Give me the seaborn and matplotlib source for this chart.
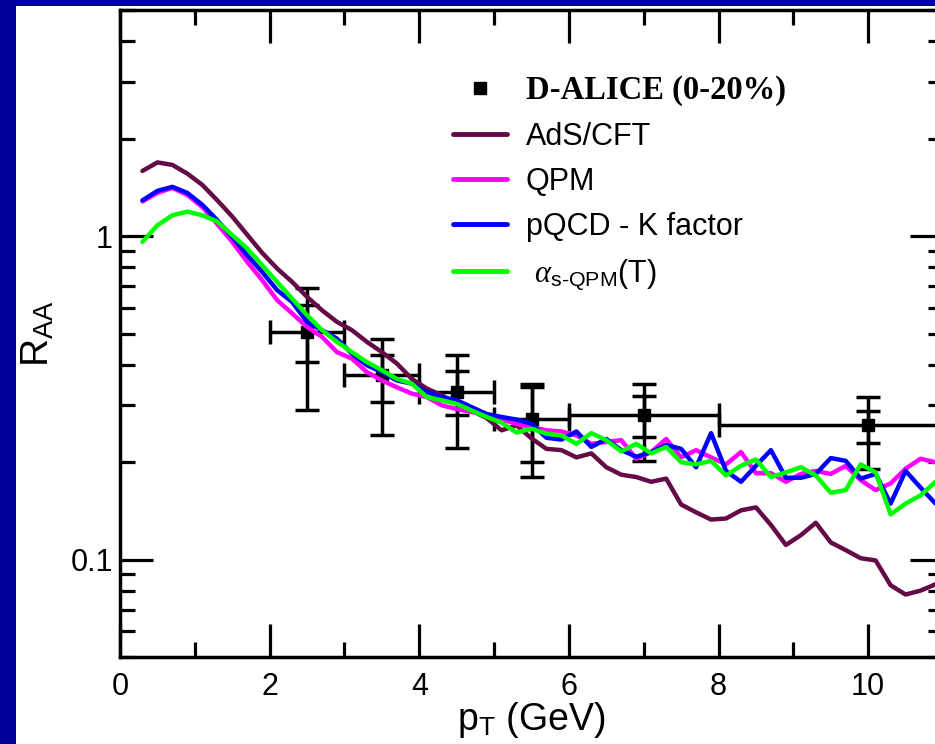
import numpy as np
import pandas as pd
import matplotlib
matplotlib.use("Agg")
import matplotlib.pyplot as plt
from matplotlib.lines import Line2D
from matplotlib.patches import Rectangle
from matplotlib.ticker import LogLocator, NullFormatter, FixedLocator, FixedFormatter, MultipleLocator
import seaborn as sns

# ---------------- data ----------------
pt = [0.3, 0.5, 0.7, 0.9, 1.1, 1.3, 1.5, 1.7, 1.9, 2.1, 2.3, 2.5, 2.7, 2.9, 3.1, 3.3, 3.5, 3.7,
      3.9, 4.1, 4.3, 4.5, 4.7, 4.9, 5.1, 5.3, 5.5, 5.7, 5.9, 6.1, 6.3, 6.5, 6.7, 6.9, 7.1, 7.3,
      7.5, 7.7, 7.9, 8.1, 8.3, 8.5, 8.7, 8.9, 9.1, 9.3, 9.5, 9.7, 9.9, 10.1, 10.3, 10.5, 10.7, 10.9]

ads_cft = [1.59, 1.69, 1.66, 1.56, 1.44, 1.29, 1.15, 1.01, 0.888, 0.794,
           0.722, 0.649, 0.590, 0.543, 0.512, 0.471, 0.438, 0.404, 0.362, 0.338,
           0.322, 0.303, 0.289, 0.274, 0.251, 0.260, 0.237, 0.220, 0.218, 0.207,
           0.213, 0.193, 0.183, 0.180, 0.174, 0.178, 0.148, 0.140, 0.133, 0.134,
           0.142, 0.145, 0.128, 0.111, 0.119, 0.130, 0.113, 0.107, 0.101, 0.0994,
           0.0833, 0.078, 0.0802, 0.0839]

qpm = [1.28, 1.36, 1.41, 1.34, 1.23, 1.09, 0.960, 0.833, 0.731, 0.634,
       0.577, 0.524, 0.488, 0.438, 0.418, 0.380, 0.358, 0.341, 0.326, 0.318,
       0.300, 0.292, 0.286, 0.279, 0.271, 0.263,
       0.257, 0.251, 0.249, 0.242, 0.228, 0.231, 0.234, 0.205, 0.215, 0.236,
       0.207, 0.218, 0.207, 0.197, 0.215, 0.185, 0.185, 0.174, 0.184, 0.188,
       0.184, 0.195, 0.176, 0.164, 0.172, 0.191, 0.205, 0.200]

pqcd_k = [1.29, 1.38, 1.42, 1.36, 1.25, 1.12, 0.995, 0.873, 0.775, 0.681,
          0.626, 0.543, 0.512, 0.482, 0.433, 0.399, 0.380, 0.358, 0.350, 0.330,
          0.318, 0.311, 0.296, 0.282, 0.276, 0.271,
          0.263, 0.238, 0.235, 0.249, 0.223, 0.236, 0.218, 0.208, 0.215, 0.226,
          0.220, 0.193, 0.246, 0.188, 0.174, 0.195, 0.218, 0.179, 0.179, 0.184,
          0.206, 0.202, 0.178, 0.184, 0.149, 0.188, 0.167, 0.149]

alpha_s_qpm = [0.960, 1.08, 1.16, 1.19, 1.16, 1.11, 1.007, 0.916, 0.813, 0.722,
               0.641, 0.570, 0.512, 0.471, 0.438, 0.408, 0.385, 0.362, 0.350, 0.318,
               0.311, 0.303, 0.289, 0.276, 0.265, 0.247,
               0.254, 0.245, 0.242, 0.228, 0.246, 0.234, 0.216, 0.228, 0.213, 0.223,
               0.200, 0.197, 0.202, 0.182, 0.195, 0.204, 0.180, 0.186, 0.193, 0.182,
               0.161, 0.164, 0.197, 0.186, 0.138, 0.149, 0.158, 0.174]

# D-ALICE (0-20%) data points
alice_pt = [2.5, 3.5, 4.5, 5.5, 7.0, 10.0]
alice_raa = [0.506, 0.371, 0.329, 0.272, 0.279, 0.260]
alice_pt_halfwidth = [0.5, 0.5, 0.5, 0.5, 1.0, 2.0]
alice_outer_hi = [0.689, 0.480, 0.428, 0.350, 0.350, 0.318]
alice_outer_lo = [0.291, 0.242, 0.221, 0.180, 0.202, 0.190]
alice_inner_hi = [0.611, 0.430, 0.382, 0.342, 0.320, 0.289]
alice_inner_lo = [0.408, 0.308, 0.279, 0.200, 0.239, 0.229]

series_names = ["AdS/CFT", "QPM", "pQCD - K factor", r" $\alpha_{\text{s-QPM}}$(T)"]
series_colors = ["#640a46", "#ff00ff", "#0000ff", "#00ff00"]
x_ticks = [0, 2, 4, 6, 8, 10]
y_ticks = [0.1, 1]
y_tick_labels = ["0.1", "1"]

# ---------------- style ----------------
sns.set_style("ticks")
plt.rcParams["font.family"] = ["Liberation Sans", "DejaVu Sans"]
plt.rcParams["mathtext.fontset"] = "custom"
plt.rcParams["mathtext.rm"] = "Liberation Sans"
plt.rcParams["mathtext.it"] = "Liberation Serif:italic"
plt.rcParams["mathtext.bf"] = "Liberation Sans:bold"
for key in ["text.color", "axes.labelcolor", "xtick.color", "ytick.color", "axes.edgecolor"]:
    plt.rcParams[key] = "black"

W, H = 935, 744
fig = plt.figure(figsize=(W / 100, H / 100), dpi=100, facecolor="#000099")
fig.patches.append(Rectangle((16 / W, 0), 1, 1 - 6 / H, transform=fig.transFigure,
                             facecolor="white", edgecolor="none", zorder=-10))

ax = fig.add_axes([120 / W, 1 - 657 / H, 823 / W, 647 / H])
ax.set_facecolor("white")
ax.set_zorder(5)

# error bars (drawn below the curves)
y = np.array(alice_raa)
outer = [y - np.array(alice_outer_lo), np.array(alice_outer_hi) - y]
inner = [y - np.array(alice_inner_lo), np.array(alice_inner_hi) - y]
ax.errorbar(alice_pt, alice_raa, xerr=alice_pt_halfwidth, yerr=outer, fmt="s", color="black",
            ms=9, elinewidth=2.5, capsize=8.5, capthick=2.5, zorder=2)
ax.errorbar(alice_pt, alice_raa, yerr=inner, fmt="none", ecolor="black",
            elinewidth=2.5, capsize=8.5, capthick=2.5, zorder=2)

# model curves
frames = []
for name, vals in zip(series_names, [ads_cft, qpm, pqcd_k, alpha_s_qpm]):
    frames.append(pd.DataFrame({"pT": pt, "RAA": vals, "model": name}))
df = pd.concat(frames, ignore_index=True)
sns.lineplot(data=df, x="pT", y="RAA", hue="model", hue_order=series_names,
             palette=dict(zip(series_names, series_colors)), linewidth=3.2,
             legend=False, ax=ax, zorder=3, sort=False, estimator=None)

ax.set_yscale("log")
ax.set_xlim(0, 11)
ax.set_ylim(0.05, 5)

ax.xaxis.set_major_locator(FixedLocator(x_ticks))
ax.xaxis.set_minor_locator(MultipleLocator(1))
ax.yaxis.set_major_locator(FixedLocator(y_ticks))
ax.yaxis.set_major_formatter(FixedFormatter(y_tick_labels))
ax.yaxis.set_minor_locator(LogLocator(base=10, subs=range(2, 10)))
ax.yaxis.set_minor_formatter(NullFormatter())

ax.tick_params(which="both", direction="in", top=True, right=True, width=2.3, color="black")
ax.tick_params(which="major", length=24, labelsize=22, labelcolor="black")
ax.tick_params(axis="x", which="major", pad=11)
ax.tick_params(axis="y", which="major", pad=5)
ax.tick_params(which="minor", length=11)
for s in ax.spines.values():
    s.set_linewidth(2.5)
    s.set_color("black")

ax.set_xlabel(r"p$_{\text{T}}$ (GeV)", fontsize=27, labelpad=-2, color="black")
ax.set_ylabel(r"R$_{\text{AA}}$", fontsize=28, labelpad=10, color="black")

# legend
handles = [Line2D([], [], marker="s", color="black", ls="none", ms=9)]
handles += [Line2D([], [], color=c, lw=3.5) for c in series_colors]
labels = ["D-ALICE (0-20%)"] + series_names
leg = ax.legend(handles, labels, loc="upper left", bbox_to_anchor=(453 / W, 1 - 75 / H),
                bbox_transform=fig.transFigure, frameon=False, fontsize=22,
                handlelength=1.76, handletextpad=0.62, labelspacing=0.5,
                borderpad=0, borderaxespad=0)
for t in leg.get_texts():
    t.set_color("black")
t0 = leg.get_texts()[0]
t0.set_fontfamily(["Liberation Serif", "DejaVu Serif"])
t0.set_fontweight("bold")
t0.set_fontsize(23.5)

fig.savefig("out.png", dpi=100, facecolor=fig.get_facecolor())
